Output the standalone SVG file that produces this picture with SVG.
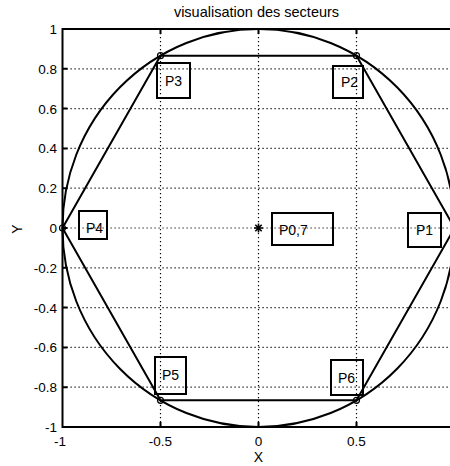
<svg xmlns="http://www.w3.org/2000/svg" width="450" height="466" viewBox="0 0 450 466">
<style>
text{font-family:"Liberation Sans",Arial,sans-serif;fill:#000}
.tick{font-size:13.5px}
.ylab{text-anchor:end}
.xlab{text-anchor:middle}
.grid{stroke:#000;stroke-width:1.2;stroke-dasharray:1.2 2.8;fill:none}
.thick{stroke:#000;stroke-width:2;fill:none}
.box{stroke:#000;stroke-width:2;fill:none}
.lbl{font-size:14px}
.mk{stroke:#000;stroke-width:1.2;fill:none}
</style>
<rect width="450" height="466" fill="#fff"/>
<text x="256.5" y="17" font-size="14.5" text-anchor="middle">visualisation des secteurs</text>
<g id="grid">
<line class="grid" x1="160.5" y1="29" x2="160.5" y2="427"/>
<line class="grid" x1="258.5" y1="29" x2="258.5" y2="427"/>
<line class="grid" x1="356.5" y1="29" x2="356.5" y2="427"/>
<line class="grid" x1="62.5" y1="68.8" x2="454" y2="68.8"/>
<line class="grid" x1="62.5" y1="108.6" x2="454" y2="108.6"/>
<line class="grid" x1="62.5" y1="148.4" x2="454" y2="148.4"/>
<line class="grid" x1="62.5" y1="188.2" x2="454" y2="188.2"/>
<line class="grid" x1="62.5" y1="228" x2="454" y2="228"/>
<line class="grid" x1="62.5" y1="267.8" x2="454" y2="267.8"/>
<line class="grid" x1="62.5" y1="307.6" x2="454" y2="307.6"/>
<line class="grid" x1="62.5" y1="347.4" x2="454" y2="347.4"/>
<line class="grid" x1="62.5" y1="387.2" x2="454" y2="387.2"/>
</g>
<g id="axes">
<rect class="thick" x="62.5" y="29" width="392" height="398"/>
<path class="thick" stroke-width="1" d="M160.5 29v5M258.5 29v5M356.5 29v5M160.5 427v-5M258.5 427v-5M356.5 427v-5M62.5 68.8h5M62.5 108.6h5M62.5 148.4h5M62.5 188.2h5M62.5 228h5M62.5 267.8h5M62.5 307.6h5M62.5 347.4h5M62.5 387.2h5"/>
<g class="tick ylab">
<text x="57" y="34">1</text>
<text x="57" y="73.8">0.8</text>
<text x="57" y="113.6">0.6</text>
<text x="57" y="153.4">0.4</text>
<text x="57" y="193.2">0.2</text>
<text x="57" y="233">0</text>
<text x="57" y="272.8">-0.2</text>
<text x="57" y="312.6">-0.4</text>
<text x="57" y="352.4">-0.6</text>
<text x="57" y="392.2">-0.8</text>
<text x="57" y="432">-1</text>
</g>
<g class="tick xlab">
<text x="60" y="446">-1</text>
<text x="160.5" y="446">-0.5</text>
<text x="258.5" y="446">0</text>
<text x="356.5" y="446">0.5</text>
</g>
<text x="258.5" y="462" font-size="14" text-anchor="middle">X</text>
<text x="22" y="229" font-size="14" text-anchor="middle" transform="rotate(-90 22 229)">Y</text>
</g>
<g id="connectors">
<ellipse class="thick" cx="258.5" cy="228" rx="196" ry="199"/>
<polygon class="thick" points="454.5,228 356.5,55.7 160.5,55.7 62.5,228 160.5,400.3 356.5,400.3"/>
<g class="mk">
<circle cx="356.5" cy="55.7" r="3"/>
<circle cx="160.5" cy="55.7" r="3"/>
<circle cx="62.5" cy="228" r="3"/>
<circle cx="160.5" cy="400.3" r="3"/>
<circle cx="356.5" cy="400.3" r="3"/>
</g>
<path stroke="#000" stroke-width="1.6" d="M254 228h9M258.5 223.5v9M255.3 224.8l6.4 6.4M255.3 231.2l6.4-6.4"/>
</g>
<g id="P3"><rect class="box" x="157" y="63" width="33" height="35"/><text class="lbl" x="165" y="86">P3</text></g>
<g id="P2"><rect class="box" x="333" y="66" width="30" height="32"/><text class="lbl" x="341" y="87">P2</text></g>
<g id="P07"><rect class="box" x="272" y="213" width="61" height="32"/><text class="lbl" x="279" y="235">P0,7</text></g>
<g id="P1"><rect class="box" x="408" y="213" width="33" height="34"/><text class="lbl" x="416" y="235">P1</text></g>
<g id="P4"><rect class="box" x="79" y="211" width="28" height="28"/><text class="lbl" x="86" y="233">P4</text></g>
<g id="P5"><rect class="box" x="155" y="357" width="31" height="37"/><text class="lbl" x="162" y="380">P5</text></g>
<g id="P6"><rect class="box" x="331" y="360" width="32" height="35"/><text class="lbl" x="338" y="383">P6</text></g>
</svg>
